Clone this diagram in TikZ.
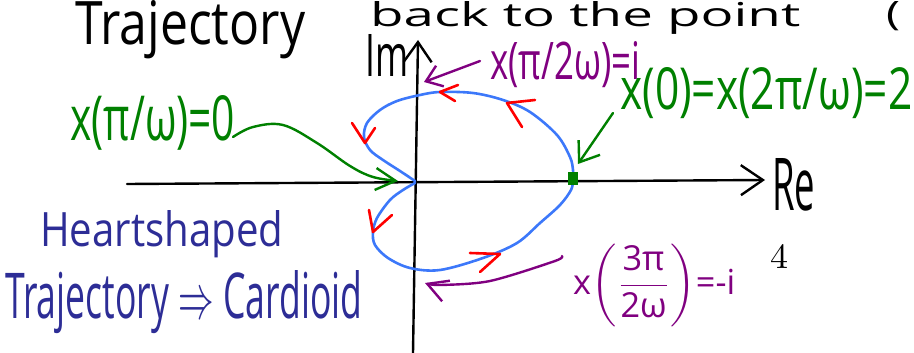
\documentclass[tikz,border=0pt]{standalone}
\usepackage{fontspec}
\usepackage{amsmath}
\usepackage{graphicx}
\newfontfamily\hand{Open Sans}
\usetikzlibrary{arrows.meta}
\definecolor{hgreen}{RGB}{0,128,0}
\definecolor{hpurple}{RGB}{128,0,128}
\definecolor{hblue}{RGB}{60,120,250}
\definecolor{hnavy}{RGB}{45,45,150}
\definecolor{hred}{RGB}{255,0,0}
\newcommand\fitbox[3]{\resizebox{#1pt}{#2pt}{#3}}
\begin{document}
\begin{tikzpicture}[x=1pt,y=-1pt,line cap=round,line join=round,
  lbl/.style={anchor=base west,inner sep=0pt,font=\hand},
  axisline/.style={line width=2.4pt,black},
  cardioid/.style={line width=2.6pt,hblue},
  redtick/.style={line width=2.6pt,hred},
  pointer/.style={line width=2.4pt}]
\useasboundingbox (0,0) rectangle (914,353);
\clip (0,0) rectangle (914,353);

% axes
\coordinate (xl) at (127,184);
\coordinate (xr) at (765,180);
\coordinate (yb) at (413,353);
\coordinate (yt) at (418,40);
\draw[axisline,-{Straight Barb[length=22pt,width=30pt]}] (xl) -- (xr);
\draw[axisline,-{Straight Barb[length=20pt,width=28pt]}] (yb) -- (yt);

% cardioid
\draw[cardioid] plot[smooth,tension=0.55] coordinates {
 (415,181) (400,171) (383,160) (370,150) (364,137) (367,123) (380,110)
 (397,101) (420,95) (440,92) (473,93) (503,100) (530,112) (557,135)
 (570,157) (573,170) (573,180) (571,190) (560,205) (540,223) (517,243)
 (483,258) (440,270) (410,268) (388,258) (375,245) (373,232) (377,218)
 (390,200) (403,190) (415,183)};

% direction marks
\draw[redtick] (458,85) -- (440,92) -- (455,101);
\draw[redtick] (535,100) -- (507,103) -- (522,127);
\draw[redtick] (352,123) -- (365,143) -- (375,128);
\draw[redtick] (369,210) -- (373,232) -- (392,215);
\draw[redtick] (470,253) -- (500,254) -- (480,272);

% point x = 2
\node[fill=hgreen,minimum width=10pt,minimum height=13pt,inner sep=0pt] (p2) at (573,178) {};

% labels
\node[lbl] (ttl1) at (75,45) {\fitbox{230}{44}{Trajectory}};
\node[lbl] (ttl2) at (370,27) {\fitbox{430}{25}{back to the point}};
\node[lbl] (ttl3) at (886,26) {\fitbox{14}{24}{(}};
\node[lbl] (im) at (365,77) {\fitbox{43}{42}{Im}};
\node[lbl] (re) at (772,210) {\fitbox{43}{52}{Re}};
\node[lbl,text=hpurple] (li) at (490,80) {\fitbox{150}{38}{x(π/2ω)=i}};
\node[lbl,text=hgreen] (l2) at (620,110) {\fitbox{292}{42}{x(0)=x(2π/ω)=2}};
\node[lbl,text=hgreen] (l0) at (70,140) {\fitbox{165}{45}{x(π/ω)=0}};
\node[lbl,text=hpurple] (lmi) at (573,294) {\fitbox{162}{50}{x$\left(\dfrac{\text{3π}}{\text{2ω}}\right)$=-i}};
\node[lbl,text=hnavy] (h1) at (40,246) {\fitbox{243}{36}{Heartshaped}};
\node[lbl,text=hnavy] (h2) at (5,318) {\fitbox{357}{48}{Trajectory $\Rightarrow$ Cardioid}};
\node[anchor=base west,inner sep=0pt] (pg) at (770,268) {\fitbox{18}{24}{4}};

% pointers
\coordinate (sI) at (480,61);
\coordinate (tI) at (424,82);
\draw[pointer,hpurple,-{Straight Barb[length=15pt,width=22pt]}] (sI) -- (tI);

\coordinate (s2) at (613,113);
\coordinate (t2) at (578,164);
\draw[pointer,hgreen,-{Straight Barb[length=18pt,width=26pt]}] (s2) -- (t2);

\coordinate (s0) at (233,137);
\coordinate (t0) at (398,181);
\draw[pointer,hgreen,-{Straight Barb[length=20pt,width=22pt]}] plot[smooth,tension=0.6] coordinates {
 (s0) (253,127) (283,125) (317,143) (350,166) (373,177) (t0)};

\coordinate (sM) at (562,256);
\coordinate (tM) at (425,283);
\draw[pointer,hpurple,-{Straight Barb[length=20pt,width=22pt]}] plot[smooth,tension=0.5] coordinates {
 (sM) (555,261) (490,281) (440,285) (tM)};
\end{tikzpicture}
\end{document}
